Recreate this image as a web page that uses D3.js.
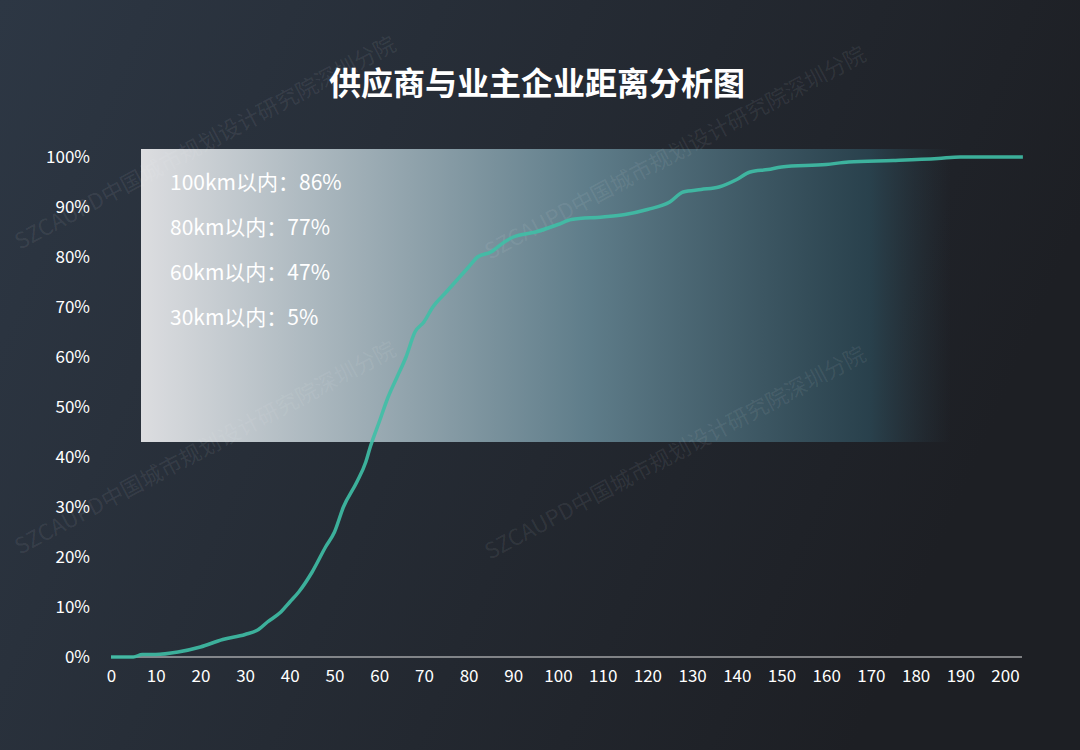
<!DOCTYPE html>
<html><head><meta charset="utf-8">
<script src="https://cdn.jsdelivr.net/npm/d3@7/dist/d3.min.js"></script>
<style>body{margin:0;background:#222}</style>
</head><body>
<svg id="c" width="1080" height="750"></svg>
<script>
const title = "供应商与业主企业距离分析图";
const distances = [0,5,7,10,15,20,25,30,33,35,38,40,42,45,48,50,52,55,57,58,60,62,64,66,68,70,72,75,78,80,82,85,88,90,95,100,103,110,115,120,125,128,132,136,140,143,147,150,160,165,175,185,190,204];
const shares =    [0,0,0.5,0.5,1,2,3.5,4.5,5.5,7,9,11,13,17,22,25,30,35,39,42,47,52,56,60,65,67,70,73,76,78,80,81,83,84,85,86.5,87.5,88,88.5,89.5,91,93,93.5,94,95.5,97,97.5,98,98.5,99,99.3,99.7,100,100];
const xTicks = d3.range(0,201,10);
const yTicks = d3.range(0,101,10);
const notes = ["100km以内：86%","80km以内：77%","60km以内：47%","30km以内：5%"];
const watermark = "SZCAUPD中国城市规划设计研究院深圳分院";

const svg = d3.select("#c");
const defs = svg.append("defs");
const bg = defs.append("linearGradient").attr("id","bg").attr("x1","0").attr("x2","1").attr("y1","0").attr("y2","0.3");
bg.append("stop").attr("offset","0").attr("stop-color","#2d3744");
bg.append("stop").attr("offset","1").attr("stop-color","#1d1f24");
const bx = defs.append("linearGradient").attr("id","bx");
bx.append("stop").attr("offset","0").attr("stop-color","#dcdde0");
bx.append("stop").attr("offset","0.55").attr("stop-color","#5f7d8a");
bx.append("stop").attr("offset","0.9").attr("stop-color","#2a4450").attr("stop-opacity",0.9);
bx.append("stop").attr("offset","1").attr("stop-color","#2a3a44").attr("stop-opacity",0);
svg.append("rect").attr("width",1080).attr("height",750).attr("fill","url(#bg)");

const x = d3.scaleLinear().domain([0,200]).range([111,1005]);
const y = d3.scaleLinear().domain([0,100]).range([657,157]);
const font = "'Noto Sans CJK SC','Noto Sans',sans-serif";

svg.append("rect").attr("x",141).attr("y",149).attr("width",810).attr("height",293).attr("fill","url(#bx)");

const wm = svg.append("g").attr("font-family",font).attr("font-size",22).attr("fill","#ffffff").attr("fill-opacity",0.08);
[[20,250],[490,260],[20,555],[490,560]].forEach(([a,b])=>{
  wm.append("text").attr("transform",`translate(${a},${b}) rotate(-28)`).text(watermark);
});

svg.append("text").attr("x",537).attr("y",95).attr("text-anchor","middle").attr("fill","#fff")
  .attr("font-family",font).attr("font-size",32).attr("font-weight","bold").text(title);

const yAxis = svg.append("g").attr("transform","translate(100,0)").call(d3.axisLeft(y).tickValues(yTicks).tickFormat(d=>d+"%").tickSize(0));
yAxis.select(".domain").remove();
yAxis.selectAll("text").attr("fill","#fff").attr("font-size",17).attr("font-family",font).attr("x",-10);
const xAxis = svg.append("g").attr("transform","translate(0,657)").call(d3.axisBottom(x).tickValues(xTicks).tickSize(0));
xAxis.select(".domain").attr("stroke","#e0e0e0").attr("d","M111,0H1022");
xAxis.selectAll("text").attr("fill","#fff").attr("font-size",17).attr("font-family",font).attr("dy","1.3em");

const line = d3.line().x((d,i)=>x(distances[i])).y(d=>y(d)).curve(d3.curveMonotoneX);
svg.append("path").attr("d",line(shares)).attr("fill","none").attr("stroke","#3fbfa6").attr("stroke-width",3.5).attr("stroke-opacity",0.9);

notes.forEach((t,i)=>svg.append("text").attr("x",170).attr("y",190+i*45).attr("fill","#fff")
  .attr("font-family",font).attr("font-size",21).text(t));
</script>
</body></html>
